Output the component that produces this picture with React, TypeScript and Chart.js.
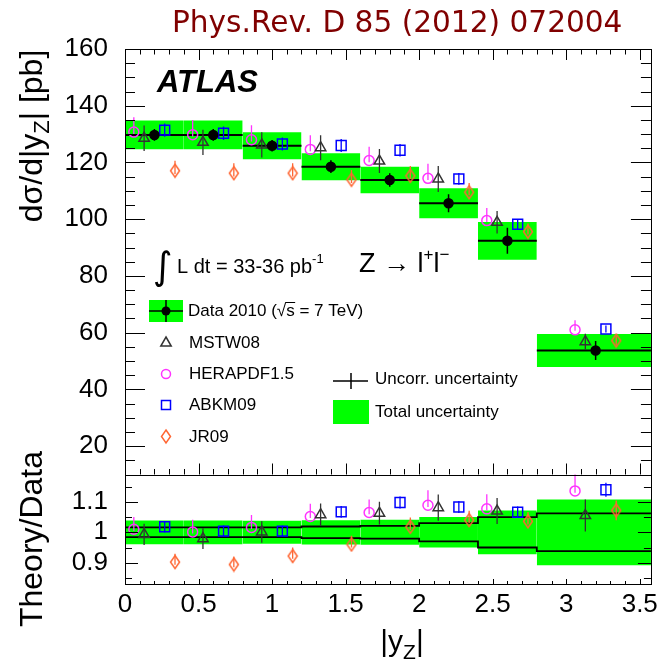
import React, { useEffect, useRef } from "react";
import { Chart, registerables } from "chart.js";

Chart.register(...registerables);

// ---------------- data ----------------
const binEdges = [0, 0.4, 0.8, 1.2, 1.6, 2.0, 2.4, 2.8, 3.6];
const binCenters = [0.2, 0.6, 1.0, 1.4, 1.8, 2.2, 2.6, 3.2];
const dataValues = [129.7, 129.7, 125.9, 118.5, 113.8, 105.6, 92.4, 53.7];
const totalRelUnc = [0.039, 0.039, 0.038, 0.04, 0.041, 0.05, 0.072, 0.108];
const uncorrRelUnc = [0.016, 0.016, 0.016, 0.019, 0.021, 0.03, 0.05, 0.062];

const mstwValues = [128.5, 127.1, 126.2, 125.2, 120.5, 114.2, 98.9, 56.8];
const heraValues = [130.7, 129.8, 128.0, 124.6, 120.7, 114.4, 99.5, 61.0];
const abkmValues = [131.4, 130.3, 126.5, 126.0, 124.3, 114.2, 98.2, 61.3];
const jrValues = [117.1, 116.2, 116.2, 113.9, 115.3, 109.5, 95.6, 57.2];

const mstwRatio = [0.993, 0.979, 1.001, 1.058, 1.063, 1.081, 1.07, 1.055];
const heraRatio = [1.01, 1.001, 1.016, 1.052, 1.065, 1.089, 1.077, 1.136];
const abkmRatio = [1.018, 1.004, 1.004, 1.067, 1.098, 1.083, 1.066, 1.14];
const jrRatio = [0.902, 0.894, 0.922, 0.96, 1.018, 1.04, 1.036, 1.072];

// relative theory uncertainties (up / down)
const mstwErrUp = [0.035, 0.035, 0.035, 0.035, 0.035, 0.04, 0.04, 0.05];
const mstwErrDown = [0.035, 0.035, 0.035, 0.035, 0.035, 0.04, 0.04, 0.05];
const heraErrUp = [0.04, 0.04, 0.04, 0.04, 0.04, 0.045, 0.045, 0.055];
const heraErrDown = [0.005, 0.005, 0.005, 0.005, 0.005, 0.005, 0.005, 0.005];
const abkmErrUp = [0.018, 0.018, 0.018, 0.018, 0.018, 0.018, 0.018, 0.02];
const abkmErrDown = [0.018, 0.018, 0.018, 0.018, 0.018, 0.018, 0.018, 0.02];
const jrErrUp = [0.03, 0.03, 0.03, 0.03, 0.03, 0.03, 0.03, 0.03];
const jrErrDown = [0.01, 0.01, 0.01, 0.01, 0.01, 0.01, 0.01, 0.03];

const xTickValues = [0, 0.5, 1, 1.5, 2, 2.5, 3, 3.5];
const upperTickValues = [20, 40, 60, 80, 100, 120, 140, 160];
const ratioTickValues = [0.9, 1, 1.1];

const heraOffset = -0.14;
const mstwOffset = -0.07;
const abkmOffset = 0.07;
const jrOffset = 0.14;

// ---------------- styles ----------------
const GREEN = "#00ff00";
const C_MSTW = "#333333";
const C_HERA = "#ff33ff";
const C_ABKM = "#0000ff";
const C_JR = "#ff6633";
const SANS = '"Liberation Sans", Arial, sans-serif';

function makeDiamond(color: string) {
  const c = document.createElement("canvas");
  c.width = 12;
  c.height = 16;
  const g = c.getContext("2d")!;
  g.strokeStyle = color;
  g.lineWidth = 1.5;
  g.beginPath();
  g.moveTo(6, 1.5);
  g.lineTo(10.5, 8);
  g.lineTo(6, 14.5);
  g.lineTo(1.5, 8);
  g.closePath();
  g.stroke();
  return c;
}

function boxDatasets(axis: string, centers: number[], rel: number[]) {
  return centers.map((v, i) => ({
    yAxisID: axis,
    data: [
      { x: binEdges[i], y: v * (1 + rel[i]) },
      { x: binEdges[i + 1], y: v * (1 + rel[i]) },
    ],
    fill: { value: v * (1 - rel[i]) },
    backgroundColor: GREEN,
    borderColor: "rgba(0,0,0,0)",
    borderWidth: 0,
    pointRadius: 0,
    showLine: true,
    order: 30,
  }));
}

function errorBarDataset(
  axis: string,
  xs: number[],
  vals: number[],
  up: number[],
  down: number[],
  color: string,
  width: number
) {
  const data: any[] = [];
  vals.forEach((v, i) => {
    data.push({ x: xs[i], y: v * (1 - down[i]) });
    data.push({ x: xs[i], y: v * (1 + up[i]) });
    data.push({ x: xs[i], y: null });
  });
  return {
    yAxisID: axis,
    data,
    borderColor: color,
    borderWidth: width,
    pointRadius: 0,
    showLine: true,
    fill: false,
    spanGaps: false,
    order: 5,
  };
}

function markerDataset(
  axis: string,
  xs: number[],
  vals: number[],
  style: any,
  color: string,
  radius: number,
  filled: boolean
) {
  return {
    yAxisID: axis,
    data: vals.map((v, i) => ({ x: xs[i], y: v })),
    showLine: false,
    pointStyle: style,
    pointRadius: radius,
    pointBorderColor: color,
    pointBackgroundColor: filled ? color : "rgba(0,0,0,0)",
    pointBorderWidth: 1.5,
    order: 1,
  };
}

function stepDataset(axis: string, vals: number[]) {
  const data = vals.map((v, i) => ({ x: binEdges[i], y: v }));
  data.push({ x: binEdges[binEdges.length - 1], y: vals[vals.length - 1] });
  return {
    yAxisID: axis,
    data,
    stepped: "before",
    borderColor: "#000",
    borderWidth: 1.8,
    pointRadius: 0,
    showLine: true,
    fill: false,
    order: 10,
  };
}

// ---------------- plugins ----------------
const framePlugin = {
  id: "rootFrame",
  afterDatasetsDraw(chart: any) {
    const { ctx, chartArea } = chart;
    const xs = chart.scales.x;
    const yU = chart.scales.y;
    const yL = chart.scales.y2;
    const L = chartArea.left;
    const R = chartArea.right;
    const r = (v: number) => Math.round(v) + 0.5;
    ctx.save();
    ctx.strokeStyle = "#000";
    ctx.lineWidth = 1;
    const line = (x1: number, y1: number, x2: number, y2: number) => {
      ctx.beginPath();
      ctx.moveTo(x1, y1);
      ctx.lineTo(x2, y2);
      ctx.stroke();
    };
    // frames
    ctx.strokeRect(r(L), r(yU.top), Math.round(R) - Math.round(L), Math.round(yU.bottom) - Math.round(yU.top));
    ctx.strokeRect(r(L), r(yL.top), Math.round(R) - Math.round(L), Math.round(yL.bottom) - Math.round(yL.top));
    // x ticks
    for (let k = 0; k <= 36; k++) {
      const v = k / 10;
      const px = xs.getPixelForValue(v);
      if (px > R + 0.5) continue;
      const major = k % 5 === 0;
      const p = r(px);
      const lu = major ? 11 : 5.5;
      line(p, yU.top, p, yU.top + lu);
      line(p, yU.bottom, p, yU.bottom - lu);
      const ll = major ? 5 : 3;
      line(p, yL.bottom, p, yL.bottom - ll);
    }
    // upper y ticks
    for (let v = 10; v <= 160; v += 5) {
      const py = r(yU.getPixelForValue(v));
      const len = v % 20 === 0 ? 20 : 10;
      line(L, py, L + len, py);
      line(R, py, R - len, py);
    }
    // lower y ticks
    for (let k = 17; k <= 23; k++) {
      const v = k * 0.05;
      const py = r(yL.getPixelForValue(v));
      const len = k % 2 === 0 ? 13 : 7;
      line(L, py, L + len, py);
      line(R, py, R - len, py);
    }
    ctx.restore();
  },
};

type Part = { t: string; font: string; dy?: number };
function drawParts(ctx: CanvasRenderingContext2D, parts: Part[], x: number, y: number, align: "left" | "center") {
  let total = 0;
  for (const p of parts) {
    ctx.font = p.font;
    total += ctx.measureText(p.t).width;
  }
  let cx = align === "center" ? x - total / 2 : x;
  ctx.textAlign = "left";
  for (const p of parts) {
    ctx.font = p.font;
    ctx.fillText(p.t, cx, y + (p.dy || 0));
    cx += ctx.measureText(p.t).width;
  }
}

const textPlugin = {
  id: "rootTexts",
  afterDraw(chart: any) {
    const ctx: CanvasRenderingContext2D = chart.ctx;
    ctx.save();
    ctx.textBaseline = "alphabetic";
    ctx.textAlign = "left";
    // title
    ctx.fillStyle = "#800000";
    ctx.font = '29.6px "DejaVu Sans", sans-serif';
    ctx.fillText("Phys.Rev. D 85 (2012) 072004", 172, 32);

    ctx.fillStyle = "#000";
    ctx.font = `italic bold 31px ${SANS}`;
    ctx.fillText("ATLAS", 157, 92);

    const F32 = `32px ${SANS}`;
    const F22 = `22px ${SANS}`;
    const F30 = `30px ${SANS}`;
    const F21 = `21px ${SANS}`;
    // y titles
    ctx.save();
    ctx.translate(42, 136);
    ctx.rotate(-Math.PI / 2);
    drawParts(ctx, [
      { t: "dσ/d|y", font: F32 },
      { t: "Z", font: F22, dy: 7 },
      { t: "| [pb]", font: F32 },
    ], 0, 0, "center");
    ctx.restore();
    ctx.save();
    ctx.translate(42, 539);
    ctx.rotate(-Math.PI / 2);
    drawParts(ctx, [{ t: "Theory/Data", font: F32 }], 0, 0, "center");
    ctx.restore();
    // x title
    drawParts(ctx, [
      { t: "|y", font: F30 },
      { t: "Z", font: F21, dy: 8 },
      { t: "|", font: F30 },
    ], 402, 651, "center");

    // luminosity
    ctx.font = '38px "DejaVu Sans", sans-serif';
    ctx.fillText("∫", 153, 279);
    drawParts(ctx, [
      { t: "L dt = 33-36 pb", font: `20px ${SANS}` },
      { t: "-1", font: `13px ${SANS}`, dy: -10 },
    ], 177, 273, "left");
    // process
    drawParts(ctx, [
      { t: "Z → l", font: `27px ${SANS}` },
      { t: "+", font: `17px ${SANS}`, dy: -12 },
      { t: "l", font: `27px ${SANS}` },
      { t: "−", font: `17px ${SANS}`, dy: -12 },
    ], 359, 272, "left");

    // legend
    const F17 = `17px ${SANS}`;
    ctx.fillStyle = GREEN;
    ctx.fillRect(149, 300, 34, 22);
    ctx.strokeStyle = "#000";
    ctx.lineWidth = 1.5;
    ctx.beginPath();
    ctx.moveTo(149, 311);
    ctx.lineTo(183, 311);
    ctx.moveTo(166, 300);
    ctx.lineTo(166, 322);
    ctx.stroke();
    ctx.fillStyle = "#000";
    ctx.beginPath();
    ctx.arc(166, 311, 4.5, 0, Math.PI * 2);
    ctx.fill();
    ctx.font = F17;
    const pre = "Data 2010 (";
    ctx.fillText(pre + "√s = 7 TeV)", 188, 316);
    const wPre = ctx.measureText(pre).width;
    const wRad = ctx.measureText("√").width;
    const wS = ctx.measureText("s").width;
    ctx.lineWidth = 1;
    ctx.beginPath();
    ctx.moveTo(188 + wPre + wRad - 1, 302.5);
    ctx.lineTo(188 + wPre + wRad + wS + 0.5, 302.5);
    ctx.stroke();

    // MSTW triangle
    ctx.strokeStyle = C_MSTW;
    ctx.lineWidth = 1.5;
    ctx.beginPath();
    ctx.moveTo(166, 343 - 6);
    ctx.lineTo(166 + 5.2, 343 + 3);
    ctx.lineTo(166 - 5.2, 343 + 3);
    ctx.closePath();
    ctx.stroke();
    // HERAPDF circle
    ctx.strokeStyle = C_HERA;
    ctx.beginPath();
    ctx.arc(166, 374, 4.5, 0, Math.PI * 2);
    ctx.stroke();
    // ABKM square
    ctx.strokeStyle = C_ABKM;
    ctx.strokeRect(161.5, 400.5, 9, 9);
    // JR diamond
    ctx.strokeStyle = C_JR;
    ctx.beginPath();
    ctx.moveTo(166, 430);
    ctx.lineTo(170.5, 436.5);
    ctx.lineTo(166, 443);
    ctx.lineTo(161.5, 436.5);
    ctx.closePath();
    ctx.stroke();

    ctx.fillStyle = "#000";
    ctx.font = F17;
    ctx.fillText("MSTW08", 189, 348);
    ctx.fillText("HERAPDF1.5", 189, 379);
    ctx.fillText("ABKM09", 189, 410);
    ctx.fillText("JR09", 189, 442);

    // right legend
    ctx.strokeStyle = "#000";
    ctx.lineWidth = 1.5;
    ctx.beginPath();
    ctx.moveTo(333, 381);
    ctx.lineTo(368, 381);
    ctx.moveTo(351, 373);
    ctx.lineTo(351, 389);
    ctx.stroke();
    ctx.fillStyle = GREEN;
    ctx.fillRect(333, 400, 36, 24);
    ctx.fillStyle = "#000";
    ctx.fillText("Uncorr. uncertainty", 375, 384);
    ctx.fillText("Total uncertainty", 375, 417);
    ctx.restore();
  },
};

export default function App() {
  const ref = useRef<HTMLCanvasElement>(null);
  useEffect(() => {
    document.body.style.margin = "0";
    const canvas = ref.current!;
    const diamond = makeDiamond(C_JR);
    const shift = (d: number) => binCenters.map((c) => c + d);

    const dataLines: any[] = [];
    dataValues.forEach((v, i) => {
      dataLines.push({ x: binEdges[i], y: v });
      dataLines.push({ x: binEdges[i + 1], y: v });
      dataLines.push({ x: binEdges[i + 1], y: null });
    });

    const datasets: any[] = [
      ...boxDatasets("y", dataValues, totalRelUnc),
      ...boxDatasets("y2", dataValues.map(() => 1), totalRelUnc),
      {
        yAxisID: "y",
        data: dataLines,
        borderColor: "#000",
        borderWidth: 2,
        pointRadius: 0,
        showLine: true,
        fill: false,
        spanGaps: false,
        order: 10,
      },
      stepDataset("y2", uncorrRelUnc.map((u) => 1 + u)),
      stepDataset("y2", uncorrRelUnc.map((u) => 1 - u)),
      errorBarDataset("y", binCenters, dataValues, uncorrRelUnc, uncorrRelUnc, "#000", 1.5),
      markerDataset("y", binCenters, dataValues, "circle", "#000", 4.5, true),
      // upper theory
      errorBarDataset("y", shift(mstwOffset), mstwValues, mstwErrUp, mstwErrDown, C_MSTW, 1.3),
      errorBarDataset("y", shift(heraOffset), heraValues, heraErrUp, heraErrDown, C_HERA, 1.3),
      errorBarDataset("y", shift(abkmOffset), abkmValues, abkmErrUp, abkmErrDown, C_ABKM, 1.3),
      errorBarDataset("y", shift(jrOffset), jrValues, jrErrUp, jrErrDown, C_JR, 1.3),
      markerDataset("y", shift(mstwOffset), mstwValues, "triangle", C_MSTW, 6, false),
      markerDataset("y", shift(heraOffset), heraValues, "circle", C_HERA, 5, false),
      markerDataset("y", shift(abkmOffset), abkmValues, "rect", C_ABKM, 7, false),
      markerDataset("y", shift(jrOffset), jrValues, diamond, C_JR, 6, false),
      // ratio theory
      errorBarDataset("y2", shift(mstwOffset), mstwRatio, mstwErrUp, mstwErrDown, C_MSTW, 1.3),
      errorBarDataset("y2", shift(heraOffset), heraRatio, heraErrUp, heraErrDown, C_HERA, 1.3),
      errorBarDataset("y2", shift(abkmOffset), abkmRatio, abkmErrUp, abkmErrDown, C_ABKM, 1.3),
      errorBarDataset("y2", shift(jrOffset), jrRatio, jrErrUp, jrErrDown, C_JR, 1.3),
      markerDataset("y2", shift(mstwOffset), mstwRatio, "triangle", C_MSTW, 6, false),
      markerDataset("y2", shift(heraOffset), heraRatio, "circle", C_HERA, 5, false),
      markerDataset("y2", shift(abkmOffset), abkmRatio, "rect", C_ABKM, 7, false),
      markerDataset("y2", shift(jrOffset), jrRatio, diamond, C_JR, 6, false),
    ];

    const tickFont = { family: SANS, size: 26 };
    const chart = new Chart(canvas, {
      type: "line",
      data: { datasets },
      options: {
        animation: false,
        responsive: false,
        devicePixelRatio: 1,
        events: [],
        layout: { padding: { left: 0, right: 3, top: 49, bottom: 0 } },
        plugins: { legend: { display: false }, tooltip: { enabled: false } },
        elements: { line: { tension: 0 } },
        scales: {
          x: {
            type: "linear",
            min: 0,
            max: 3.576,
            grid: { display: false, drawTicks: false },
            border: { display: false },
            afterBuildTicks: (s: any) => {
              s.ticks = xTickValues.map((v) => ({ value: v }));
            },
            afterFit: (s: any) => {
              s.height = 82;
            },
            ticks: {
              font: tickFont,
              color: "#000",
              padding: 5,
              maxRotation: 0,
              autoSkip: false,
              callback: (v: any) => String(v),
            },
          },
          // ratio panel defined first: the stack places later scales on top
          y2: {
            type: "linear",
            position: "left",
            stack: "panels",
            stackWeight: 109.5,
            min: 0.83,
            max: 1.19,
            grid: { display: false, drawTicks: false },
            border: { display: false },
            afterBuildTicks: (s: any) => {
              s.ticks = ratioTickValues.map((v) => ({ value: v }));
            },
            afterFit: (s: any) => {
              s.width = 125;
            },
            ticks: { font: tickFont, color: "#000", padding: 17, autoSkip: false, callback: (v: any) => String(v) },
          },
          y: {
            type: "linear",
            position: "left",
            stack: "panels",
            stackWeight: 425.5,
            min: 10,
            max: 160,
            grid: { display: false, drawTicks: false },
            border: { display: false },
            afterBuildTicks: (s: any) => {
              s.ticks = upperTickValues.map((v) => ({ value: v }));
            },
            afterFit: (s: any) => {
              s.width = 125;
            },
            ticks: { font: tickFont, color: "#000", padding: 17, autoSkip: false, callback: (v: any) => String(v) },
          },
        },
      } as any,
      plugins: [framePlugin, textPlugin],
    });
    return () => chart.destroy();
  }, []);
  return (
    <div style={{ width: 663, height: 666 }}>
      <canvas ref={ref} width={663} height={666} style={{ display: "block" }} />
    </div>
  );
}
